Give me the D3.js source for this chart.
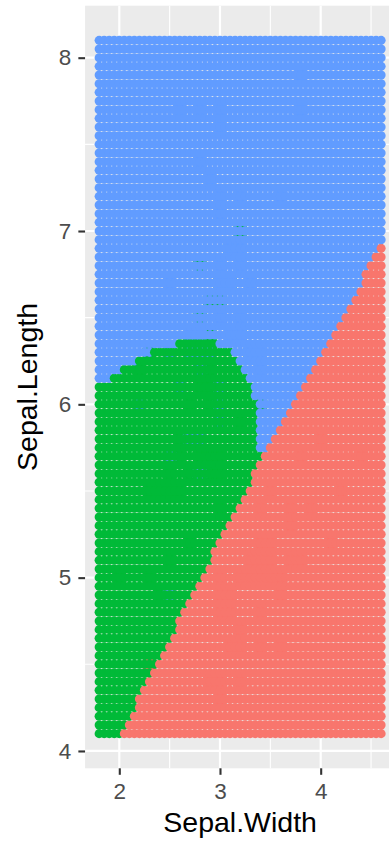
<!DOCTYPE html>
<html>
<head>
<meta charset="utf-8">
<script src="https://cdn.jsdelivr.net/npm/d3@7"></script>
<style>
  html, body { margin: 0; padding: 0; background: #ffffff; }
  svg { display: block; }
  text { font-family: "Liberation Sans", Arial, Helvetica, sans-serif; }
</style>
</head>
<body>
<svg id="chart" width="389" height="845"></svg>
<script>
// Iris measurements (Sepal.Width, Sepal.Length) for each species
const setosaWidth = [3.5,3.0,3.2,3.1,3.6,3.9,3.4,3.4,2.9,3.1,3.7,3.4,3.0,3.0,4.0,4.4,3.9,3.5,3.8,3.8,3.4,3.7,3.6,3.3,3.4,3.0,3.4,3.5,3.4,3.2,3.1,3.4,4.1,4.2,3.1,3.2,3.5,3.6,3.0,3.4,3.5,2.3,3.2,3.5,3.8,3.0,3.8,3.2,3.7,3.3];
const setosaLength = [5.1,4.9,4.7,4.6,5.0,5.4,4.6,5.0,4.4,4.9,5.4,4.8,4.8,4.3,5.8,5.7,5.4,5.1,5.7,5.1,5.4,5.1,4.6,5.1,4.8,5.0,5.0,5.2,5.2,4.7,4.8,5.4,5.2,5.5,4.9,5.0,5.5,4.9,4.4,5.1,5.0,4.5,4.4,5.0,5.1,4.8,5.1,4.6,5.3,5.0];
const versicolorWidth = [3.2,3.2,3.1,2.3,2.8,2.8,3.3,2.4,2.9,2.7,2.0,3.0,2.2,2.9,2.9,3.1,3.0,2.7,2.2,2.5,3.2,2.8,2.5,2.8,2.9,3.0,2.8,3.0,2.9,2.6,2.4,2.4,2.7,2.7,3.0,3.4,3.1,2.3,3.0,2.5,2.6,3.0,2.6,2.3,2.7,3.0,2.9,2.9,2.5,2.8];
const versicolorLength = [7.0,6.4,6.9,5.5,6.5,5.7,6.3,4.9,6.6,5.2,5.0,5.9,6.0,6.1,5.6,6.7,5.6,5.8,6.2,5.6,5.9,6.1,6.3,6.1,6.4,6.6,6.8,6.7,6.0,5.7,5.5,5.5,5.8,6.0,5.4,6.0,6.7,6.3,5.6,5.5,5.5,6.1,5.8,5.0,5.6,5.7,5.7,6.2,5.1,5.7];
const virginicaWidth = [3.3,2.7,3.0,2.9,3.0,3.0,2.5,2.9,2.5,3.6,3.2,2.7,3.0,2.5,2.8,3.2,3.0,3.8,2.6,2.2,3.2,2.8,2.8,2.7,3.3,3.2,2.8,3.0,2.8,3.0,2.8,3.8,2.8,2.8,2.6,3.0,3.4,3.1,3.0,3.1,3.1,3.1,2.7,3.2,3.3,3.0,2.5,3.0,3.4,3.0];
const virginicaLength = [6.3,5.8,7.1,6.3,6.5,7.6,4.9,7.3,6.7,7.2,6.5,6.4,6.8,5.7,5.8,6.4,6.5,7.7,7.7,6.0,6.9,5.6,7.7,6.3,6.7,7.2,6.2,6.1,6.4,7.2,7.4,7.9,6.4,6.3,6.1,7.7,6.3,6.4,6.0,6.9,6.7,6.9,5.8,6.8,6.7,6.7,6.3,6.5,6.2,5.9];

const speciesNames = ["setosa", "versicolor", "virginica"];
const speciesColors = ["#F8766D", "#00BA38", "#619CFF"];

// Prediction lattice: Sepal.Width 1.8..4.6, Sepal.Length 4.1..8.1, step 0.05
const gridWidthRange = [1.8, 4.6];
const gridLengthRange = [4.1, 8.1];
const gridStep = 0.05;

// Predicted-class regions, as boundary vertices [Sepal.Width, Sepal.Length]
const setosaRegion = [[1.934,4.0],[2.022,4.1],[3.478,5.75],[4.318,6.6],[4.58,6.9],[4.66,6.97],[4.9,6.97],[4.9,3.9],[1.85,3.9]];
const versicolorRegion = [[1.7,3.9],[1.7,6.125],[1.925,6.125],[1.925,6.175],[2.025,6.175],[2.025,6.225],[2.175,6.225],[2.175,6.275],[2.325,6.275],[2.325,6.325],[2.575,6.325],[2.575,6.375],[2.975,6.375],[2.975,6.325],[3.125,6.325],[3.125,6.275],[3.175,6.275],[3.175,6.225],[3.225,6.225],[3.225,6.175],[3.275,6.175],[3.275,6.125],[3.325,6.125],[3.325,6.025],[3.375,6.025],[3.375,5.725],[3.425,5.725],[3.425,3.9]];

// Axis breaks
const xTicks = [2, 3, 4];
const yTicks = [4, 5, 6, 7, 8];
const xMinor = [2.5, 3.5, 4.5];
const yMinor = [4.5, 5.5, 6.5, 7.5];

const svg = d3.select("#chart");

const x = d3.scaleLinear().domain([1.66, 4.74]).range([85.06, 395.2]);
const y = d3.scaleLinear().domain([3.9, 8.3]).range([768.3, 5.7]);

const color = d3.scaleOrdinal().domain(speciesNames).range(speciesColors);

// Panel background and grid lines
svg.append("rect")
  .attr("x", x.range()[0]).attr("y", y.range()[1])
  .attr("width", x.range()[1] - x.range()[0])
  .attr("height", y.range()[0] - y.range()[1])
  .attr("fill", "#EBEBEB");

const gridG = svg.append("g").attr("stroke", "#ffffff").attr("fill", "none");
gridG.selectAll(".vminor").data(xMinor).join("line")
  .attr("x1", d => x(d)).attr("x2", d => x(d))
  .attr("y1", y.range()[1]).attr("y2", y.range()[0]).attr("stroke-width", 1.1);
gridG.selectAll(".hminor").data(yMinor).join("line")
  .attr("y1", d => y(d)).attr("y2", d => y(d))
  .attr("x1", x.range()[0]).attr("x2", x.range()[1]).attr("stroke-width", 1.1);
gridG.selectAll(".vmajor").data(xTicks).join("line")
  .attr("x1", d => x(d)).attr("x2", d => x(d))
  .attr("y1", y.range()[1]).attr("y2", y.range()[0]).attr("stroke-width", 2.2);
gridG.selectAll(".hmajor").data(yTicks).join("line")
  .attr("y1", d => y(d)).attr("y2", d => y(d))
  .attr("x1", x.range()[0]).attr("x2", x.range()[1]).attr("stroke-width", 2.2);

// Observations, drawn beneath the prediction lattice
const observations = [];
[[setosaWidth, setosaLength], [versicolorWidth, versicolorLength], [virginicaWidth, virginicaLength]]
  .forEach(([w, l], k) => w.forEach((v, i) => observations.push({ w: v, l: l[i], species: speciesNames[k] })));

svg.append("g").selectAll("circle").data(observations).join("circle")
  .attr("cx", d => x(d.w)).attr("cy", d => y(d.l)).attr("r", 8.2)
  .attr("fill", d => color(d.species));

// Prediction lattice coloured by predicted class
const nW = Math.round((gridWidthRange[1] - gridWidthRange[0]) / gridStep);
const nL = Math.round((gridLengthRange[1] - gridLengthRange[0]) / gridStep);
const lattice = [];
for (let j = 0; j <= nL; j++) {
  for (let i = 0; i <= nW; i++) {
    const w = +(gridWidthRange[0] + i * gridStep).toFixed(3);
    const l = +(gridLengthRange[0] + j * gridStep).toFixed(3);
    let species = "virginica";
    if (d3.polygonContains(setosaRegion, [w, l])) species = "setosa";
    else if (d3.polygonContains(versicolorRegion, [w, l])) species = "versicolor";
    lattice.push({ w, l, species });
  }
}
svg.append("g").selectAll("circle").data(lattice).join("circle")
  .attr("cx", d => x(d.w)).attr("cy", d => y(d.l)).attr("r", 4.55)
  .attr("fill", d => color(d.species));

// Axes
const xAxis = svg.append("g")
  .attr("transform", `translate(0,${y.range()[0]})`)
  .call(d3.axisBottom(x).tickValues(xTicks).tickSize(6.5).tickPadding(8.5).tickFormat(d3.format("d")));
const yAxis = svg.append("g")
  .attr("transform", `translate(${x.range()[0]},0)`)
  .call(d3.axisLeft(y).tickValues(yTicks).tickSize(6.7).tickPadding(7).tickFormat(d3.format("d")));

[xAxis, yAxis].forEach(g => {
  g.select(".domain").remove();
  g.selectAll(".tick line").attr("stroke", "#333333").attr("stroke-width", 2.1);
  g.selectAll(".tick text").attr("fill", "#4D4D4D")
    .style("font-family", "'Liberation Sans', Arial, sans-serif").style("font-size", "22.5px");
});

// Axis titles
svg.append("text")
  .attr("x", (x.range()[0] + x.range()[1]) / 2).attr("y", 831.5)
  .attr("text-anchor", "middle").attr("fill", "#000000")
  .style("font-size", "28.5px")
  .text("Sepal.Width");

svg.append("text")
  .attr("transform", `translate(37,${(y.range()[0] + y.range()[1]) / 2}) rotate(-90)`)
  .attr("text-anchor", "middle").attr("fill", "#000000")
  .style("font-size", "28.5px")
  .text("Sepal.Length");
</script>
</body>
</html>
